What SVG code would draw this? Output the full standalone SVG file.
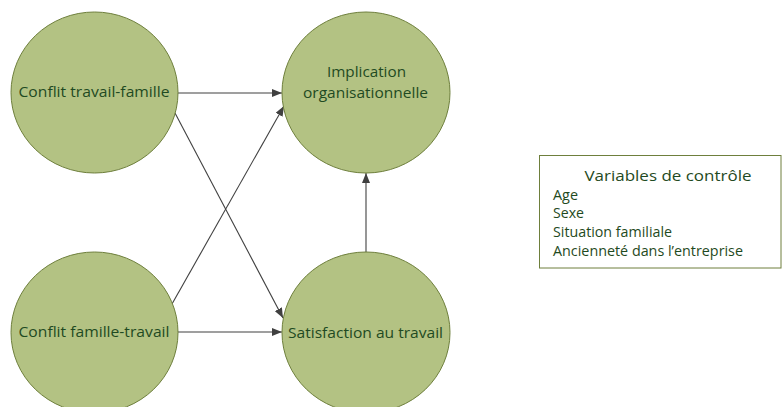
<svg xmlns="http://www.w3.org/2000/svg" width="782" height="407" viewBox="0 0 782 407">
<style>
.node ellipse{fill:#b3c283;stroke:#6e7f3c;stroke-width:1}
.lbl{font-family:"Open Sans","Liberation Sans",sans-serif;font-size:14.5px;fill:#1f4a22;text-anchor:middle}
.conn line{stroke:#404040;stroke-width:1.1;marker-end:url(#arr)}
.box rect{fill:#ffffff;stroke:#6e7f3c;stroke-width:1}
.bt{font-family:"Open Sans","Liberation Sans",sans-serif;font-size:14px;fill:#1f4a22}
</style>
<defs>
<marker id="arr" viewBox="0 0 10 8" refX="10" refY="4" markerWidth="10" markerHeight="8" markerUnits="userSpaceOnUse" orient="auto">
<path d="M0,0 L10,4 L0,8 z" fill="#404040"/>
</marker>
</defs>
<rect width="782" height="407" fill="#ffffff"/>
<g id="connectors" class="conn">
<line x1="178" y1="93" x2="282" y2="93"/>
<line x1="175" y1="113" x2="283" y2="318"/>
<line x1="172" y1="304" x2="284" y2="106"/>
<line x1="178" y1="332" x2="282" y2="332"/>
<line x1="366" y1="252" x2="366" y2="173"/>
</g>
<g id="n1" class="node">
<ellipse cx="94.5" cy="92.5" rx="83.5" ry="80.5"/>
<text class="lbl" x="94" y="97" textLength="151" lengthAdjust="spacingAndGlyphs">Conflit travail-famille</text>
</g>
<g id="n2" class="node">
<ellipse cx="366" cy="92.5" rx="84" ry="80.5"/>
<text class="lbl" x="366.5" y="77" textLength="79" lengthAdjust="spacingAndGlyphs">Implication</text>
<text class="lbl" x="365.5" y="98" textLength="125" lengthAdjust="spacingAndGlyphs">organisationnelle</text>
</g>
<g id="n3" class="node">
<ellipse cx="94.5" cy="332.5" rx="83.5" ry="80.5"/>
<text class="lbl" x="94" y="337" textLength="151" lengthAdjust="spacingAndGlyphs">Conflit famille-travail</text>
</g>
<g id="n4" class="node">
<ellipse cx="366" cy="332.5" rx="84" ry="80.5"/>
<text class="lbl" x="365.5" y="338" textLength="155" lengthAdjust="spacingAndGlyphs">Satisfaction au travail</text>
</g>
<g id="controls" class="box">
<rect x="539.5" y="155.5" width="241.5" height="112.5"/>
<text class="bt" x="668" y="181" text-anchor="middle" font-size="17" textLength="167" lengthAdjust="spacingAndGlyphs">Variables de contrôle</text>
<text class="bt" x="553" y="200" textLength="25" lengthAdjust="spacingAndGlyphs">Age</text>
<text class="bt" x="553" y="218" textLength="31" lengthAdjust="spacingAndGlyphs">Sexe</text>
<text class="bt" x="553" y="237" textLength="119" lengthAdjust="spacingAndGlyphs">Situation familiale</text>
<text class="bt" x="553" y="256" textLength="190" lengthAdjust="spacingAndGlyphs">Ancienneté dans l’entreprise</text>
</g>
</svg>
